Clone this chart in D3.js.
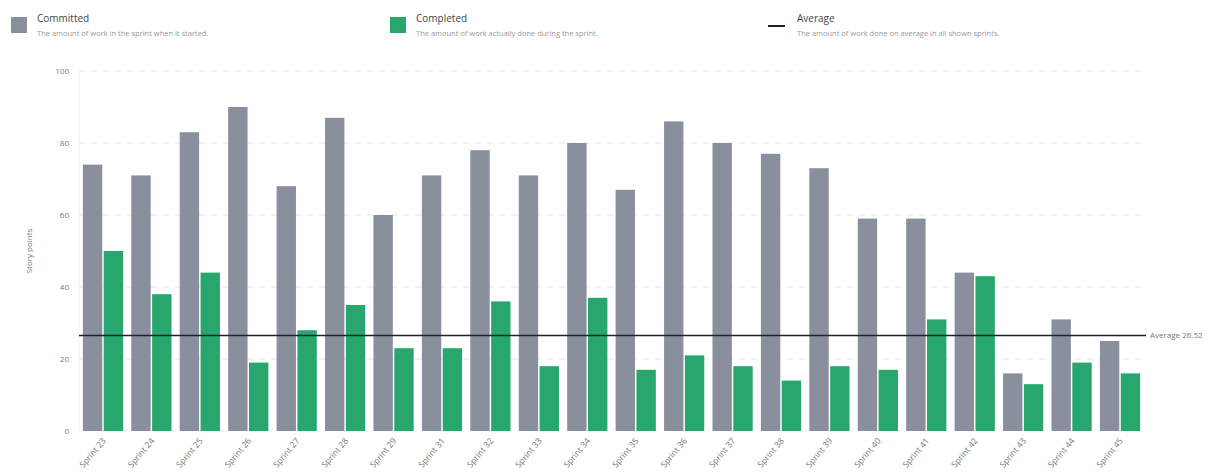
<!DOCTYPE html>
<html><head><meta charset="utf-8">
<script src="https://cdn.jsdelivr.net/npm/d3@7"></script>
<style>body{margin:0;background:#fff;font-family:"Open Sans",Roboto,sans-serif}</style>
</head><body><svg id="c" width="1230" height="472"></svg>
<script>
const sprints = ["Sprint 23","Sprint 24","Sprint 25","Sprint 26","Sprint 27","Sprint 28","Sprint 29","Sprint 31","Sprint 32","Sprint 33","Sprint 34","Sprint 35","Sprint 36","Sprint 37","Sprint 38","Sprint 39","Sprint 40","Sprint 41","Sprint 42","Sprint 43","Sprint 44","Sprint 45"];
const committed = [74,71,83,90,68,87,60,71,78,71,80,67,86,80,77,73,59,59,44,16,31,25];
const completed = [50,38,44,19,28,35,23,23,36,18,37,17,21,18,14,18,17,31,43,13,19,16];
const average = 26.52;
const yTicks = [0,20,40,60,80,100];
const seriesNames = ["Committed","Completed"];
const legendItems = [
  {name:"Committed", desc:"The amount of work in the sprint when it started.", type:"rect", color:"#8a8f9e"},
  {name:"Completed", desc:"The amount of work actually done during the sprint.", type:"rect", color:"#27a66d"},
  {name:"Average", desc:"The amount of work done on average in all shown sprints.", type:"line", color:"#1e2230"}
];
const colors = {Committed:"#8a8f9e", Completed:"#27a66d"};

const svg = d3.select("#c");
const x = d3.scaleBand().domain(sprints).range([79,1144]).paddingInner(0.17).paddingOuter(0.08);
const xi = d3.scaleBand().domain(seriesNames).range([0,x.bandwidth()]).paddingInner(0.07);
const y = d3.scaleLinear().domain([0,100]).range([431,71]);

// gridlines
svg.append("g").selectAll("line").data(yTicks.filter(d=>d>0)).join("line")
  .attr("x1",79).attr("x2",1144).attr("y1",d=>y(d)).attr("y2",d=>y(d))
  .attr("stroke","#e3e3e3").attr("stroke-dasharray","6,6");
svg.append("line").attr("x1",79).attr("x2",79).attr("y1",y(100)).attr("y2",y(0)).attr("stroke","#eeeeee");

// y axis
const ya = svg.append("g").attr("transform","translate(79,0)")
  .call(d3.axisLeft(y).tickValues(yTicks).tickSize(0).tickPadding(10));
ya.select(".domain").remove();
ya.selectAll("text").attr("fill","#777").attr("font-size",8).attr("font-family","Open Sans, sans-serif");
svg.append("text").attr("transform","translate(32,251) rotate(-90)").attr("text-anchor","middle")
  .attr("font-size",8).attr("fill","#777").text("Story points");

// bars
const groups = svg.append("g").selectAll("g").data(sprints).join("g")
  .attr("transform",d=>`translate(${x(d)},0)`);
groups.selectAll("rect").data((d,i)=>[{k:"Committed",v:committed[i]},{k:"Completed",v:completed[i]}]).join("rect")
  .attr("x",d=>xi(d.k)).attr("width",xi.bandwidth())
  .attr("y",d=>y(d.v)).attr("height",d=>y(0)-y(d.v)).attr("fill",d=>colors[d.k]);

// x axis labels
const xa = svg.append("g").attr("transform",`translate(0,${y(0)})`)
  .call(d3.axisBottom(x).tickSize(0).tickPadding(8));
xa.select(".domain").remove();
xa.selectAll("text").attr("fill","#777").attr("font-size",8.5).attr("font-family","Open Sans, sans-serif")
  .attr("text-anchor","end").attr("transform","translate(-5,3) rotate(-50)").attr("dy","0.35em");

// average line
svg.append("line").attr("x1",79).attr("x2",1146).attr("y1",y(average)).attr("y2",y(average))
  .attr("stroke","#1e2230").attr("stroke-width",1.5);
svg.append("text").attr("x",1150).attr("y",y(average)).attr("dy","0.35em").attr("font-size",8)
  .attr("fill","#777").text("Average " + average.toFixed(2));

// legend
const legX = [11,390,768];
const lg = svg.append("g").selectAll("g").data(legendItems).join("g")
  .attr("transform",(d,i)=>`translate(${legX[i]},0)`);
lg.filter(d=>d.type==="rect").append("rect").attr("x",0).attr("y",17).attr("width",16).attr("height",16).attr("fill",d=>d.color);
lg.filter(d=>d.type==="line").append("line").attr("x1",0).attr("x2",17).attr("y1",26).attr("y2",26)
  .attr("stroke",d=>d.color).attr("stroke-width",2);
lg.append("text").attr("x",d=>d.type==="rect"?26:29).attr("y",22).attr("font-size",10).attr("fill","#444").text(d=>d.name);
lg.append("text").attr("x",d=>d.type==="rect"?26:29).attr("y",36).attr("font-size",7.5).attr("fill","#999").text(d=>d.desc);
</script></body></html>
